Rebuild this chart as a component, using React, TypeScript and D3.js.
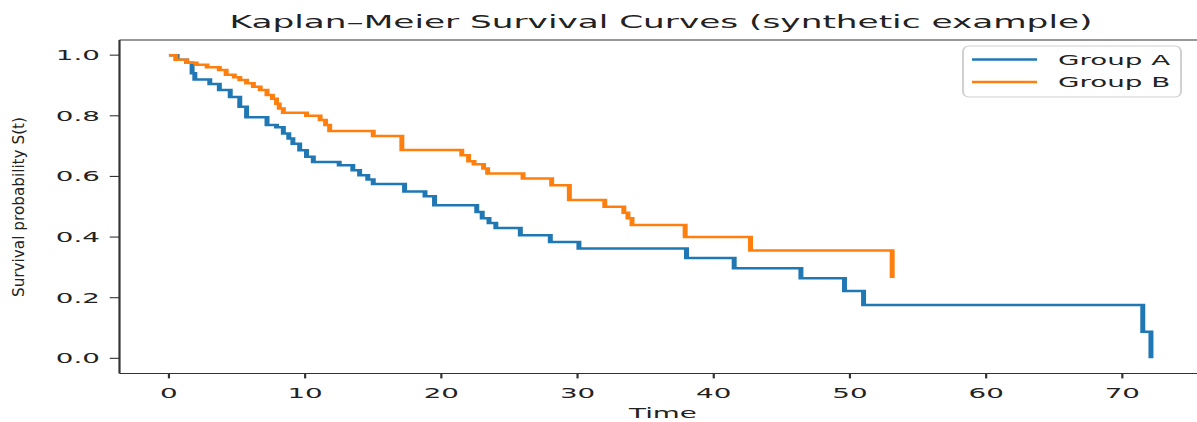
import React from "react";
import * as d3 from "d3";

// ---- data ----
const groupATime = [0, 0.6, 1.3, 1.7, 1.9, 3.0, 3.7, 4.5, 5.2, 5.7, 7.2, 7.9, 8.4, 8.8, 9.1, 9.6, 10.1, 10.6, 12.5, 13.5, 14.0, 14.6, 15.0, 17.3, 18.8, 19.5, 22.6, 23.0, 23.5, 24.0, 25.8, 28.0, 30.1, 38.0, 41.5, 46.4, 49.6, 51.0, 71.5, 72.1];
const groupASurv = [1.0, 0.985, 0.975, 0.94, 0.92, 0.905, 0.885, 0.862, 0.83, 0.795, 0.77, 0.762, 0.742, 0.725, 0.708, 0.686, 0.665, 0.648, 0.637, 0.62, 0.604, 0.59, 0.575, 0.55, 0.535, 0.505, 0.483, 0.462, 0.446, 0.43, 0.406, 0.384, 0.362, 0.331, 0.297, 0.264, 0.222, 0.176, 0.088, 0.0];

const groupBTime = [0, 0.5, 1.3, 2.0, 2.8, 3.7, 4.2, 4.8, 5.2, 5.7, 6.2, 6.7, 7.2, 7.6, 7.9, 8.1, 8.4, 10.1, 11.1, 11.5, 11.8, 15.0, 17.1, 21.5, 22.0, 22.4, 23.1, 23.4, 26.0, 28.1, 29.4, 32.0, 33.4, 33.7, 34.0, 37.9, 42.7, 53.1];
const groupBSurv = [1.0, 0.985, 0.975, 0.968, 0.96, 0.951, 0.935, 0.927, 0.918, 0.907, 0.896, 0.885, 0.869, 0.856, 0.84, 0.824, 0.81, 0.8, 0.786, 0.77, 0.75, 0.733, 0.687, 0.67, 0.65, 0.64, 0.626, 0.61, 0.593, 0.571, 0.522, 0.5, 0.48, 0.462, 0.44, 0.4, 0.356, 0.265];

const seriesNames = ["Group A", "Group B"];
const seriesColors = ["#1f77b4", "#ff7f0e"];
const xTicks = [0, 10, 20, 30, 40, 50, 60, 70];
const yTicks = [0, 0.2, 0.4, 0.6, 0.8, 1.0];
const titleText = "Kaplan\u2013Meier Survival Curves (synthetic example)";
const xLabel = "Time";
const yLabel = "Survival probability S(t)";

// ---- layout ----
const W = 1197;
const H = 422;
const SX = 1.995; // horizontal stretch of the reference image
const FONT = "'DejaVu Sans', sans-serif";

export default function App() {
  const left = 119.5 / SX;
  const right = 1207.2 / SX;
  const top = 40;
  const bottom = 373.5;

  const x = d3.scaleLinear().domain([-3.63, 76.23]).range([left, right]);
  const y = d3.scaleLinear().domain([-0.05, 1.05]).range([bottom, top]);

  const line = d3
    .line<[number, number]>()
    .x((d) => x(d[0]))
    .y((d) => y(d[1]))
    .curve(d3.curveStepAfter);

  const dataA: [number, number][] = groupATime.map((t, i) => [t, groupASurv[i]]);
  const dataB: [number, number][] = groupBTime.map((t, i) => [t, groupBSurv[i]]);
  const series = [dataA, dataB];

  const fmt = d3.format(".1f");
  const tickLen = 4.9;
  const fs = 13.9;

  const legX0 = 963 / SX;
  const legX1 = 1181 / SX;
  const legRows = [59.5, 82];

  return (
    <svg
      width={W}
      height={H}
      style={{ position: "absolute", left: 0, top: 0, display: "block", background: "#fff" }}
      fontFamily={FONT}
    >
      <rect x={0} y={0} width={W} height={H} fill="#fff" />
      <g transform={`scale(${SX},1)`}>
        {/* curves */}
        {series.map((d, i) => (
          <path
            key={i}
            d={line(d) || ""}
            fill="none"
            stroke={seriesColors[i]}
            strokeWidth={2.5}
            strokeLinejoin="miter"
          />
        ))}

        {/* spines */}
        <line x1={left} x2={left} y1={top} y2={bottom} stroke="#333" strokeWidth={1.1} />
        <line x1={left} x2={right} y1={bottom} y2={bottom} stroke="#333" strokeWidth={1.1} />
        <line x1={left} x2={right} y1={top} y2={top} stroke="#333" strokeWidth={1.1} />
        <line x1={right} x2={right} y1={top} y2={bottom} stroke="#333" strokeWidth={1.1} />

        {/* y ticks */}
        {yTicks.map((t) => (
          <g key={t}>
            <line x1={left - tickLen} x2={left} y1={y(t)} y2={y(t)} stroke="#333" strokeWidth={1.1} />
            <text
              x={left - tickLen - 4.9}
              y={y(t)}
              dy="0.36em"
              textAnchor="end"
              fontSize={fs}
              fill="#222"
            >
              {fmt(t)}
            </text>
          </g>
        ))}

        {/* x ticks */}
        {xTicks.map((t) => (
          <g key={t}>
            <line x1={x(t)} x2={x(t)} y1={bottom} y2={bottom + tickLen} stroke="#333" strokeWidth={1.1} />
            <text x={x(t)} y={398.5} textAnchor="middle" fontSize={fs} fill="#222">
              {t}
            </text>
          </g>
        ))}

        {/* x label */}
        <text x={663 / SX} y={418} textAnchor="middle" fontSize={fs} fill="#222">
          {xLabel}
        </text>

        {/* title */}
        <text x={661 / SX} y={28.5} textAnchor="middle" fontSize={17.2} fill="#222">
          {titleText}
        </text>

        {/* legend */}
        <rect
          x={legX0}
          y={46}
          width={legX1 - legX0}
          height={51}
          rx={2.8}
          ry={5.5}
          fill="#fff"
          fillOpacity={0.8}
          stroke="#d0d0d0"
          strokeWidth={1}
        />
        {seriesNames.map((name, i) => (
          <g key={name}>
            <line
              x1={972 / SX}
              x2={1037 / SX}
              y1={legRows[i]}
              y2={legRows[i]}
              stroke={seriesColors[i]}
              strokeWidth={2.4}
            />
            <text x={1058 / SX} y={legRows[i]} dy="0.36em" fontSize={fs} fill="#222">
              {name}
            </text>
          </g>
        ))}
      </g>

      {/* y label (not stretched in the reference) */}
      <text
        transform={`translate(23.5,207) rotate(-90)`}
        textAnchor="middle"
        fontSize={15.5}
        textLength={180}
        lengthAdjust="spacingAndGlyphs"
        fill="#222"
      >
        {yLabel}
      </text>
    </svg>
  );
}
